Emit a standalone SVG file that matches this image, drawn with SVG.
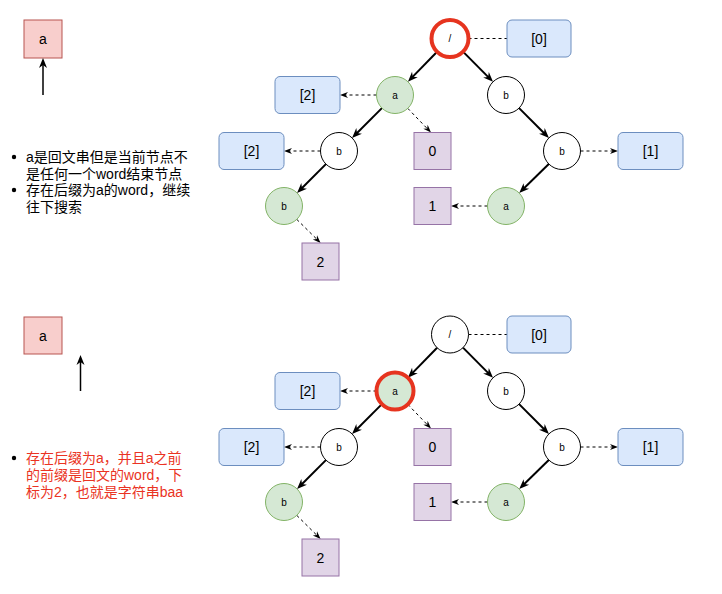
<svg xmlns="http://www.w3.org/2000/svg" width="722" height="594" viewBox="0 0 722 594">
<style>
text{font-family:"Liberation Sans","Noto Sans CJK SC",sans-serif;fill:#000}
.c{fill:#fff;stroke:#000;stroke-width:1}
.g{fill:#d5e8d4;stroke:#82b366;stroke-width:1}
.hl{stroke:#e6341f;stroke-width:4}
.bl{fill:#dae8fc;stroke:#6c8ebf;stroke-width:1}
.pu{fill:#e1d5e7;stroke:#9673a6;stroke-width:1}
.rd{fill:#f8cecc;stroke:#b85450;stroke-width:1}
.cl{font-size:10px;text-anchor:middle}
.rl{font-size:14px;text-anchor:middle}
.s{stroke:#000;stroke-width:2;fill:none;marker-end:url(#ah)}
.d{stroke:#000;stroke-width:1;stroke-dasharray:3 3;fill:none}
.da{marker-end:url(#ahs)}
.up{stroke:#000;stroke-width:1.5;fill:none;marker-end:url(#ah)}
.note{font-size:14px}
.red{fill:#ea3323}
</style>
<defs>
<marker id="ah" markerUnits="userSpaceOnUse" markerWidth="10" markerHeight="8" refX="4" refY="4" orient="auto" overflow="visible">
<path d="M0,0 L10,4 L0,8 L3,4 z" fill="#000"/>
</marker>
<marker id="ahs" markerUnits="userSpaceOnUse" markerWidth="8" markerHeight="6" refX="3.5" refY="3" orient="auto" overflow="visible">
<path d="M0,0 L8,3 L0,6 L2.5,3 z" fill="#000"/>
</marker>
</defs>

<!-- left side top -->
<g id="cur1"><rect class="rd" x="24" y="20" width="38" height="38"/><text class="rl" x="43" y="44">a</text></g>
<g id="connectors-left">
<line class="up" x1="43" y1="95" x2="43" y2="64"/>
<line class="up" x1="80.5" y1="391" x2="80.5" y2="361"/>
</g>
<g id="note1" class="note">
<circle cx="14" cy="157" r="2.2" fill="#000"/>
<text x="26" y="162">a是回文串但是当前节点不</text>
<text x="26" y="178.5">是任何一个word结束节点</text>
<circle cx="14" cy="190" r="2.2" fill="#000"/>
<text x="26" y="195">存在后缀为a的word，继续</text>
<text x="26" y="212">往下搜索</text>
</g>

<!-- left side bottom -->
<g id="cur2"><rect class="rd" x="24" y="317" width="38" height="37"/><text class="rl" x="43" y="340.5">a</text></g>
<g id="note2" class="note">
<circle cx="14" cy="458" r="2.2" fill="#000"/>
<text class="red" x="26" y="463">存在后缀为a，并且a之前</text>
<text class="red" x="26" y="480">的前缀是回文的word，下</text>
<text class="red" x="26" y="497">标为2，也就是字符串baa</text>
</g>

<!-- top tree -->
<g id="tree1">
<g id="t1-edges">
<line class="s" x1="437.1" y1="51.8" x2="412.1" y2="77.4"/>
<line class="s" x1="463" y1="51.6" x2="488.8" y2="77.6"/>
<line class="s" x1="381.9" y1="108.1" x2="356.3" y2="133.7"/>
<line class="s" x1="519.1" y1="108.1" x2="544.7" y2="133.7"/>
<line class="s" x1="325.9" y1="164.1" x2="301.3" y2="188.7"/>
<line class="s" x1="548.8" y1="164" x2="523.5" y2="188.8"/>
<line class="d" x1="468.5" y1="38.5" x2="507" y2="38.5"/>
<line class="d da" x1="376.5" y1="95" x2="344.5" y2="95"/>
<line class="d da" x1="407.8" y1="108.4" x2="427.9" y2="129.3"/>
<line class="d da" x1="320.5" y1="151" x2="288.5" y2="151"/>
<line class="d da" x1="580.5" y1="151" x2="613.5" y2="151"/>
<line class="d da" x1="487.5" y1="206" x2="455.5" y2="206"/>
<line class="d da" x1="296.8" y1="219.4" x2="317.4" y2="239.8"/>
</g>
<g id="t1-root"><circle class="c hl" cx="450" cy="38.5" r="18.5"/><text class="cl" x="450" y="42">/</text></g>
<g id="t1-a"><circle class="g" cx="395" cy="95" r="18.5"/><text class="cl" x="395" y="98.5">a</text></g>
<g id="t1-b"><circle class="c" cx="506" cy="95" r="18.5"/><text class="cl" x="506" y="98.5">b</text></g>
<g id="t1-ab"><circle class="c" cx="339" cy="151" r="18.5"/><text class="cl" x="339" y="154.5">b</text></g>
<g id="t1-bb"><circle class="c" cx="562" cy="151" r="18.5"/><text class="cl" x="562" y="154.5">b</text></g>
<g id="t1-abb"><circle class="g" cx="284" cy="206" r="18.5"/><text class="cl" x="284" y="209.5">b</text></g>
<g id="t1-bba"><circle class="g" cx="506" cy="206" r="18.5"/><text class="cl" x="506" y="209.5">a</text></g>
<g id="t1-l0"><rect class="bl" x="507" y="20" width="64" height="37" rx="5"/><text class="rl" x="539" y="43.5">[0]</text></g>
<g id="t1-l2a"><rect class="bl" x="275" y="76.5" width="65" height="37" rx="5"/><text class="rl" x="307.5" y="100">[2]</text></g>
<g id="t1-l2b"><rect class="bl" x="219" y="132.5" width="65" height="37" rx="5"/><text class="rl" x="251.5" y="156">[2]</text></g>
<g id="t1-l1"><rect class="bl" x="618" y="132.5" width="65" height="37" rx="5"/><text class="rl" x="650.5" y="156">[1]</text></g>
<g id="t1-w0"><rect class="pu" x="414" y="132.5" width="37" height="37"/><text class="rl" x="432.5" y="156">0</text></g>
<g id="t1-w1"><rect class="pu" x="414" y="187.5" width="37" height="37"/><text class="rl" x="432.5" y="211">1</text></g>
<g id="t1-w2"><rect class="pu" x="302" y="243" width="37" height="37"/><text class="rl" x="320.5" y="266.5">2</text></g>
</g>

<!-- bottom tree -->
<g id="tree2" transform="translate(0,296)">
<g id="t2-edges">
<line class="s" x1="437.1" y1="51.8" x2="412.1" y2="77.4"/>
<line class="s" x1="463" y1="51.6" x2="488.8" y2="77.6"/>
<line class="s" x1="381.9" y1="108.1" x2="356.3" y2="133.7"/>
<line class="s" x1="519.1" y1="108.1" x2="544.7" y2="133.7"/>
<line class="s" x1="325.9" y1="164.1" x2="301.3" y2="188.7"/>
<line class="s" x1="548.8" y1="164" x2="523.5" y2="188.8"/>
<line class="d" x1="468.5" y1="38.5" x2="507" y2="38.5"/>
<line class="d da" x1="376.5" y1="95" x2="344.5" y2="95"/>
<line class="d da" x1="407.8" y1="108.4" x2="427.9" y2="129.3"/>
<line class="d da" x1="320.5" y1="151" x2="288.5" y2="151"/>
<line class="d da" x1="580.5" y1="151" x2="613.5" y2="151"/>
<line class="d da" x1="487.5" y1="206" x2="455.5" y2="206"/>
<line class="d da" x1="296.8" y1="219.4" x2="317.4" y2="239.8"/>
</g>
<g id="t2-root"><circle class="c" cx="450" cy="38.5" r="18.5"/><text class="cl" x="450" y="42">/</text></g>
<g id="t2-a"><circle class="g hl" cx="395" cy="95" r="18.5"/><text class="cl" x="395" y="98.5">a</text></g>
<g id="t2-b"><circle class="c" cx="506" cy="95" r="18.5"/><text class="cl" x="506" y="98.5">b</text></g>
<g id="t2-ab"><circle class="c" cx="339" cy="151" r="18.5"/><text class="cl" x="339" y="154.5">b</text></g>
<g id="t2-bb"><circle class="c" cx="562" cy="151" r="18.5"/><text class="cl" x="562" y="154.5">b</text></g>
<g id="t2-abb"><circle class="g" cx="284" cy="206" r="18.5"/><text class="cl" x="284" y="209.5">b</text></g>
<g id="t2-bba"><circle class="g" cx="506" cy="206" r="18.5"/><text class="cl" x="506" y="209.5">a</text></g>
<g id="t2-l0"><rect class="bl" x="507" y="20" width="64" height="37" rx="5"/><text class="rl" x="539" y="43.5">[0]</text></g>
<g id="t2-l2a"><rect class="bl" x="275" y="76.5" width="65" height="37" rx="5"/><text class="rl" x="307.5" y="100">[2]</text></g>
<g id="t2-l2b"><rect class="bl" x="219" y="132.5" width="65" height="37" rx="5"/><text class="rl" x="251.5" y="156">[2]</text></g>
<g id="t2-l1"><rect class="bl" x="618" y="132.5" width="65" height="37" rx="5"/><text class="rl" x="650.5" y="156">[1]</text></g>
<g id="t2-w0"><rect class="pu" x="414" y="132.5" width="37" height="37"/><text class="rl" x="432.5" y="156">0</text></g>
<g id="t2-w1"><rect class="pu" x="414" y="187.5" width="37" height="37"/><text class="rl" x="432.5" y="211">1</text></g>
<g id="t2-w2"><rect class="pu" x="302" y="243" width="37" height="37"/><text class="rl" x="320.5" y="266.5">2</text></g>
</g>
</svg>
